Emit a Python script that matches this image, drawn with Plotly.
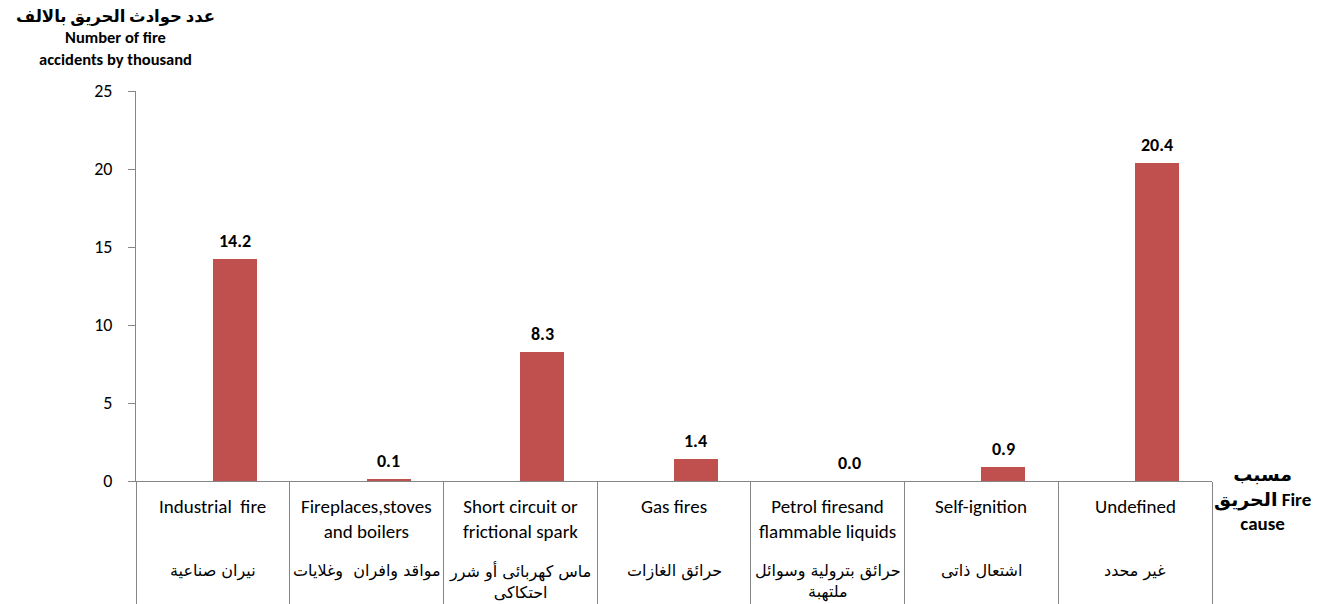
import plotly.graph_objects as go

categories = ["Industrial fire", "Fireplaces,stoves and boilers", "Short circuit or frictional spark",
              "Gas fires", "Petrol firesand flammable liquids", "Self-ignition", "Undefined"]
english_labels = ["Industrial  fire", "Fireplaces,stoves<br>and boilers",
                  "Short circuit or<br>frictional spark", "Gas fires",
                  "Petrol firesand<br>flammable liquids", "Self-ignition", "Undefined"]
arabic_labels = ["نيران صناعية", "مواقد وافران  وغلايات", "ماس كهربائى أو شرر<br>احتكاكى",
                 "حرائق الغازات", "حرائق بترولية وسوائل<br>ملتهبة", "اشتعال ذاتى", "غير محدد"]
values = [14.2, 0.1, 8.3, 1.4, 0.0, 0.9, 20.4]
y_ticks = [0, 5, 10, 15, 20, 25]
y_title = "<b>عدد حوادث الحريق بالالف</b><br><b>Number of fire</b><br><b>accidents by thousand</b>"
x_title = "<b>مسبب</b><br><b>الحريق Fire</b><br><b>cause</b>"

EN = "Carlito, Lato, 'DejaVu Sans', sans-serif"
AR = "'Noto Sans Arabic', 'DejaVu Sans', sans-serif"
AR_LBL = "'DejaVu Sans', sans-serif"
BAR_W = 0.286

fig = go.Figure()
fig.add_trace(go.Bar(x=categories, y=values, width=BAR_W, offset=0,
                     marker=dict(color="#C0504D", line=dict(width=0)), showlegend=False,
                     hoverinfo="x+y"))

for i, v in enumerate(values):
    fig.add_annotation(x=i + BAR_W / 2, y=v, xref="x", yref="y", text="<b>%.1f</b>" % v,
                       showarrow=False, yanchor="bottom", yshift=5,
                       font=dict(family=EN, size=18, color="#000"))
for i, c in enumerate(categories):
    fig.add_annotation(x=i, y=0, xref="x", yref="paper", text=english_labels[i], showarrow=False,
                       yanchor="top", valign="top", yshift=-12,
                       font=dict(family=EN, size=19, color="#000"))
    fig.add_annotation(x=i, y=0, xref="x", yref="paper", text=arabic_labels[i], showarrow=False,
                       yanchor="top", valign="top", yshift=-78,
                       font=dict(family=AR_LBL, size=16, color="#000"))

fig.add_annotation(x=0, y=1, xref="paper", yref="paper", xanchor="center", yanchor="top",
                   xshift=-21, yshift=91 - 4, text=y_title, showarrow=False,
                   font=dict(family=EN + ", " + AR, size=16.5, color="#000"))
fig.add_annotation(x=1, y=0, xref="paper", yref="paper", xanchor="center", yanchor="top",
                   xshift=50, yshift=481 - 461, text=x_title, showarrow=False,
                   font=dict(family=EN + ", " + AR, size=19, color="#000"))

fig.update_xaxes(type="category", range=[-0.5, 6.5], tickson="boundaries", ticks="outside",
                 ticklen=123, tickcolor="#868686", tickwidth=1, showticklabels=False,
                 showline=True, linecolor="#868686", linewidth=1, showgrid=False, zeroline=False,
                 automargin=False)
fig.update_yaxes(range=[0, 25], tickvals=y_ticks, ticks="outside", ticklen=7, tickcolor="#868686",
                 showline=True, linecolor="#868686", linewidth=1, showgrid=False, zeroline=False,
                 ticklabelstandoff=12, tickfont=dict(family=EN, size=18, color="#000"),
                 automargin=False)
fig.update_layout(width=1324, height=604, margin=dict(l=136, r=112, t=91, b=123, autoexpand=False),
                  plot_bgcolor="white", paper_bgcolor="white", bargap=0)
fig.write_html("out.html", config={"displayModeBar": False},
               post_script="document.body.style.margin='0';")
